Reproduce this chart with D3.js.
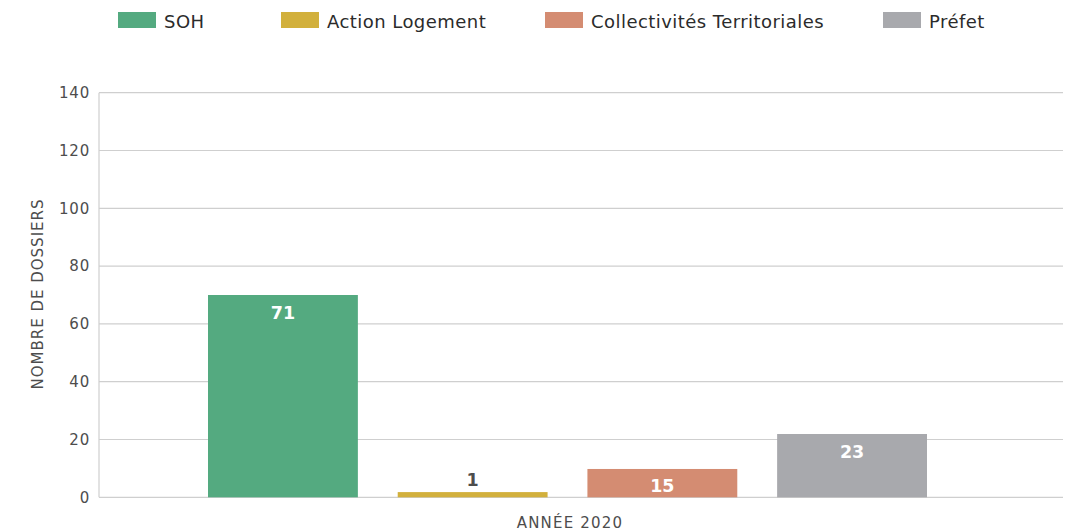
<!DOCTYPE html>
<html>
<head>
<meta charset="utf-8">
<script src="https://cdn.jsdelivr.net/npm/d3@7"></script>
<style>
  body { margin: 0; background: #fff; }
  svg { display: block; font-family: "DejaVu Sans", "Noto Sans", sans-serif; }
</style>
</head>
<body>
<div id="chart"></div>
<script>
// data
const group = "ANNÉE 2020";
const series = ["SOH", "Action Logement", "Collectivités Territoriales", "Préfet"];
// bar heights as drawn in the picture (the drawn bars don't match the printed labels exactly)
const barValues = [70, 1.8, 9.8, 21.9];
const barLabels = ["71", "1", "15", "23"];
const colors = ["#54aa80", "#d2b03c", "#d48c72", "#a8a9ad"];
const yTicks = [0, 20, 40, 60, 80, 100, 120, 140];

const width = 1073, height = 532;
const plotLeft = 99, plotRight = 1063, plotTop = 92.7, plotBottom = 497.3;

const svg = d3.select("#chart").append("svg")
    .attr("width", width)
    .attr("height", height);

const y = d3.scaleLinear().domain([0, 140]).range([plotBottom, plotTop]);

// band for the series of the single group
const x1 = d3.scaleBand().domain(series).range([208, 927]).paddingInner(0.21).paddingOuter(0);

// gridlines
svg.append("g")
  .selectAll("line")
  .data(yTicks)
  .join("line")
    .attr("x1", plotLeft)
    .attr("x2", plotRight)
    .attr("y1", d => y(d))
    .attr("y2", d => y(d))
    .attr("stroke", "#cfcfcf")
    .attr("stroke-width", 1.2);

// left axis line
svg.append("line")
  .attr("x1", plotLeft).attr("x2", plotLeft)
  .attr("y1", y(140)).attr("y2", y(0))
  .attr("stroke", "#cfcfcf")
  .attr("stroke-width", 1.2);

// y tick labels
const yAxis = d3.axisLeft(y).tickValues(yTicks).tickSize(0).tickPadding(9);
const gy = svg.append("g")
  .attr("transform", `translate(${plotLeft},0)`)
  .call(yAxis);
gy.select(".domain").remove();
gy.selectAll("text")
  .attr("font-size", 15)
  .attr("letter-spacing", 0.8)
  .attr("fill", "#4d4d4d")
  .attr("font-family", "\"DejaVu Sans\", sans-serif");

// y title
svg.append("text")
  .attr("transform", `translate(42.5,${(plotTop + plotBottom) / 2 - 1}) rotate(-90)`)
  .attr("text-anchor", "middle")
  .attr("font-size", 15)
  .attr("letter-spacing", 1)
  .attr("fill", "#4d4d4d")
  .text("NOMBRE DE DOSSIERS");

// x label
svg.append("text")
  .attr("x", 570)
  .attr("y", 528)
  .attr("text-anchor", "middle")
  .attr("font-size", 15)
  .attr("letter-spacing", 1.2)
  .attr("fill", "#4d4d4d")
  .text(group);

// bars
const bars = series.map((s, i) => ({ name: s, value: barValues[i], label: barLabels[i], color: colors[i] }));

svg.append("g")
  .selectAll("rect")
  .data(bars)
  .join("rect")
    .attr("x", d => x1(d.name))
    .attr("y", d => y(d.value))
    .attr("width", x1.bandwidth())
    .attr("height", d => y(0) - y(d.value))
    .attr("fill", d => d.color);

// value labels: inside near top, or above if the bar is too short
svg.append("g")
  .selectAll("text")
  .data(bars)
  .join("text")
    .attr("x", d => x1(d.name) + x1.bandwidth() / 2)
    .attr("y", d => (y(0) - y(d.value) > 20) ? y(d.value) + 23.5 : y(d.value) - 6.5)
    .attr("text-anchor", "middle")
    .attr("font-size", 17.5)
    .attr("font-weight", 700)
    .attr("fill", d => (y(0) - y(d.value) > 20) ? "#fff" : "#4d4d4d")
    .text(d => d.label);

// legend
const legendX = [118, 281, 545, 883];
const legend = svg.append("g")
  .selectAll("g")
  .data(bars)
  .join("g")
    .attr("transform", (d, i) => `translate(${legendX[i]},12)`);

legend.append("rect")
  .attr("width", 38)
  .attr("height", 16)
  .attr("fill", d => d.color);

legend.append("text")
  .attr("x", 46)
  .attr("y", 15.5)
  .attr("font-size", 18)
  .attr("letter-spacing", 0.45)
  .attr("fill", "#2b2b2b")
  .text(d => d.name);
</script>
</body>
</html>
